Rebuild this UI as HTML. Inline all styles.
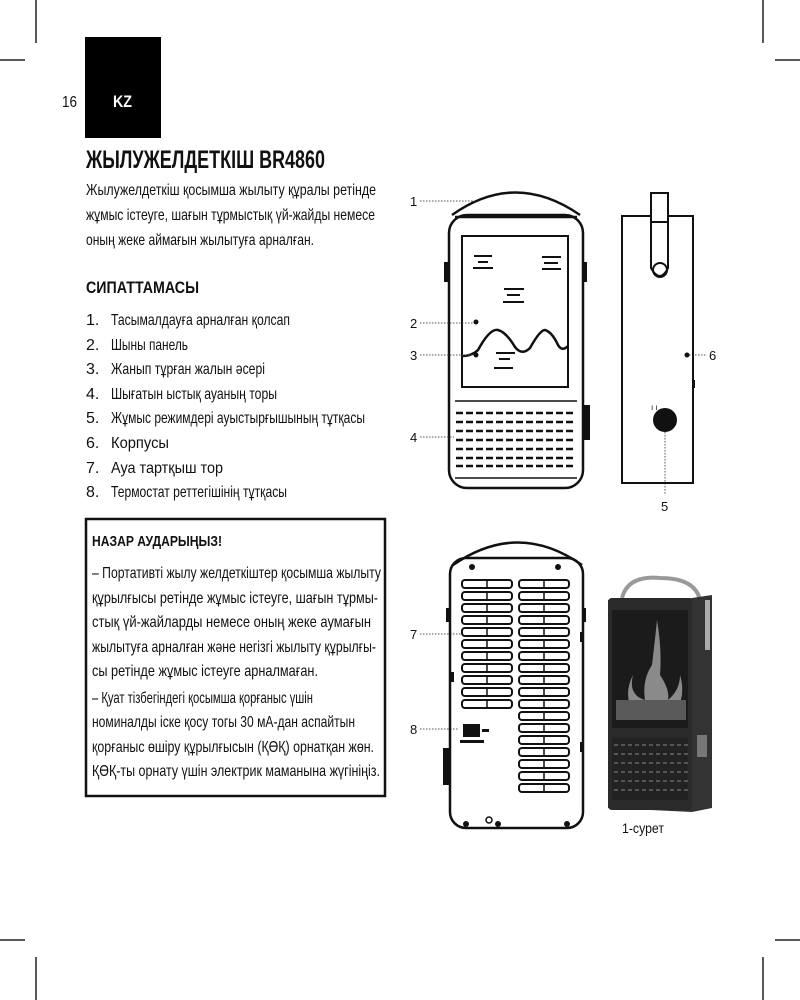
<!DOCTYPE html>
<html><head><meta charset="utf-8"><style>
html,body{margin:0;padding:0;background:#fff}
svg{display:block}
text{font-family:"Liberation Sans",sans-serif;fill:#111}
.b{font-weight:bold}
</style></head><body>
<svg width="800" height="1000" viewBox="0 0 800 1000" xmlns="http://www.w3.org/2000/svg">
<defs>
<g id="lv"><rect x="0" y="0" width="50" height="8" rx="3" fill="none" stroke="#111" stroke-width="2"/><line x1="25" y1="0" x2="25" y2="8" stroke="#111" stroke-width="1.5"/></g>
</defs>
<g stroke="#222" stroke-width="1.5">
<line x1="36" y1="0" x2="36" y2="43"/><line x1="0" y1="60" x2="25" y2="60"/>
<line x1="763" y1="0" x2="763" y2="43"/><line x1="775" y1="60" x2="800" y2="60"/>
<line x1="0" y1="940" x2="25" y2="940"/><line x1="36" y1="957" x2="36" y2="1000"/>
<line x1="775" y1="940" x2="800" y2="940"/><line x1="763" y1="957" x2="763" y2="1000"/>
</g>
<rect x="85" y="37" width="76" height="101" fill="#000"/>
<text x="113" y="107" class="b" font-size="17" style="fill:#fff" textLength="19" lengthAdjust="spacingAndGlyphs">KZ</text>
<text x="62" y="107" font-size="16" textLength="15" lengthAdjust="spacingAndGlyphs">16</text>

<text x="86" y="168" class="b" font-size="25" textLength="239" lengthAdjust="spacingAndGlyphs">ЖЫЛУЖЕЛДЕТКІШ BR4860</text>
<g font-size="16">
<text x="86" y="195" textLength="290" lengthAdjust="spacingAndGlyphs">Жылужелдеткіш қосымша жылыту құралы ретінде</text>
<text x="86" y="220" textLength="289" lengthAdjust="spacingAndGlyphs">жұмыс істеуге, шағын тұрмыстық үй-жайды немесе</text>
<text x="86" y="245" textLength="228" lengthAdjust="spacingAndGlyphs">оның жеке аймағын жылытуға арналған.</text>
</g>
<text x="86" y="293" class="b" font-size="17" textLength="113" lengthAdjust="spacingAndGlyphs">СИПАТТАМАСЫ</text>
<g font-size="16">
<text x="86" y="325">1.</text><text x="111" y="325" textLength="179" lengthAdjust="spacingAndGlyphs">Тасымалдауға арналған қолсап</text>
<text x="86" y="350">2.</text><text x="111" y="350" textLength="77" lengthAdjust="spacingAndGlyphs">Шыны панель</text>
<text x="86" y="374">3.</text><text x="111" y="374" textLength="154" lengthAdjust="spacingAndGlyphs">Жанып тұрған жалын әсері</text>
<text x="86" y="399">4.</text><text x="111" y="399" textLength="166" lengthAdjust="spacingAndGlyphs">Шығатын ыстық ауаның торы</text>
<text x="86" y="423">5.</text><text x="111" y="423" textLength="254" lengthAdjust="spacingAndGlyphs">Жұмыс режимдері ауыстырғышының тұтқасы</text>
<text x="86" y="448">6.</text><text x="111" y="448" textLength="58" lengthAdjust="spacingAndGlyphs">Корпусы</text>
<text x="86" y="473">7.</text><text x="111" y="473" textLength="112" lengthAdjust="spacingAndGlyphs">Ауа тартқыш тор</text>
<text x="86" y="497">8.</text><text x="111" y="497" textLength="176" lengthAdjust="spacingAndGlyphs">Термостат реттегішінің тұтқасы</text>
</g>
<rect x="86" y="519" width="299" height="277" fill="none" stroke="#111" stroke-width="2.5"/>
<text x="92" y="546" class="b" font-size="15" textLength="130" lengthAdjust="spacingAndGlyphs">НАЗАР АУДАРЫҢЫЗ!</text>
<g font-size="16">
<text x="92" y="578" textLength="289" lengthAdjust="spacingAndGlyphs">– Портативті жылу желдеткіштер қосымша жылыту</text>
<text x="92" y="603" textLength="286" lengthAdjust="spacingAndGlyphs">құрылғысы ретінде жұмыс істеуге, шағын тұрмы-</text>
<text x="92" y="627" textLength="279" lengthAdjust="spacingAndGlyphs">стық үй-жайларды немесе оның жеке аумағын</text>
<text x="92" y="652" textLength="284" lengthAdjust="spacingAndGlyphs">жылытуға арналған және негізгі жылыту құрылғы-</text>
<text x="92" y="676" textLength="226" lengthAdjust="spacingAndGlyphs">сы ретінде жұмыс істеуге арналмаған.</text>
<text x="92" y="703" textLength="221" lengthAdjust="spacingAndGlyphs">– Қуат тізбегіндегі қосымша қорғаныс үшін</text>
<text x="92" y="727" textLength="263" lengthAdjust="spacingAndGlyphs">номиналды іске қосу тогы 30 мА-дан аспайтын</text>
<text x="92" y="752" textLength="282" lengthAdjust="spacingAndGlyphs">қорғаныс өшіру құрылғысын (ҚӨҚ) орнатқан жөн.</text>
<text x="92" y="776" textLength="288" lengthAdjust="spacingAndGlyphs">ҚӨҚ-ты орнату үшін электрик маманына жүгініңіз.</text>
</g>

<g fill="none" stroke="#111" stroke-width="2.5">
<path d="M452 215 Q515 170 580 215"/>
<rect x="449" y="215" width="134" height="273" rx="18"/>
<line x1="455" y1="217" x2="577" y2="217"/>
<rect x="462" y="236" width="106" height="151" stroke-width="2"/>
<line x1="455" y1="401" x2="577" y2="401" stroke-width="1.5"/>
<line x1="455" y1="478" x2="577" y2="478" stroke-width="1.5"/>
<path d="M462 356 Q472 356 478 350 Q490 328 498 330 Q506 332 515 347 Q522 356 530 348 Q540 330 545 330 Q552 332 558 345 Q562 352 568 346"/>
</g>
<g stroke="#111" stroke-width="2">
<line x1="474" y1="256" x2="492" y2="256"/><line x1="478" y1="262" x2="488" y2="262"/><line x1="473" y1="268" x2="493" y2="268"/>
<line x1="542" y1="257" x2="561" y2="257"/><line x1="544" y1="263" x2="558" y2="263"/><line x1="542" y1="269" x2="561" y2="269"/>
<line x1="504" y1="289" x2="524" y2="289"/><line x1="507" y1="295" x2="520" y2="295"/><line x1="503" y1="302" x2="524" y2="302"/>
<line x1="496" y1="353" x2="515" y2="353"/><line x1="499" y1="359" x2="510" y2="359"/><line x1="494" y1="368" x2="513" y2="368"/>
</g>
<g stroke="#111" stroke-width="2.5" stroke-dasharray="7,3">
<line x1="456" y1="413" x2="576" y2="413"/><line x1="456" y1="422" x2="576" y2="422"/><line x1="456" y1="431" x2="576" y2="431"/>
<line x1="456" y1="440" x2="576" y2="440"/><line x1="456" y1="449" x2="576" y2="449"/><line x1="456" y1="458" x2="576" y2="458"/><line x1="456" y1="466" x2="576" y2="466"/>
</g>
<rect x="583" y="405" width="7" height="35" fill="#111"/>
<rect x="444" y="262" width="5" height="20" fill="#111"/><rect x="582" y="262" width="5" height="20" fill="#111"/>
<g stroke="#555" stroke-width="1" stroke-dasharray="1.5,1.5">
<line x1="420" y1="201" x2="475" y2="201"/><line x1="420" y1="323" x2="474" y2="323"/>
<line x1="420" y1="355" x2="474" y2="355"/><line x1="420" y1="437" x2="454" y2="437"/>
<line x1="689" y1="355" x2="707" y2="355"/><line x1="665" y1="432" x2="665" y2="495"/>
<line x1="420" y1="634" x2="462" y2="634"/><line x1="420" y1="729" x2="458" y2="729"/>
</g>
<circle cx="476" cy="322" r="2.5" fill="#111"/><circle cx="476" cy="355" r="2.5" fill="#111"/><circle cx="687" cy="355" r="2.5" fill="#111"/>
<g font-size="13" fill="#333">
<text x="410" y="206">1</text><text x="410" y="328">2</text><text x="410" y="360">3</text><text x="410" y="442">4</text>
<text x="709" y="360">6</text><text x="661" y="511">5</text><text x="410" y="639">7</text><text x="410" y="734">8</text>
</g>

<g fill="none" stroke="#111" stroke-width="2">
<rect x="622" y="216" width="71" height="267"/>
<path d="M651 193 H668 V268 Q660 284 651 268 Z" fill="#fff"/>
<line x1="651" y1="222" x2="668" y2="222"/>
<circle cx="660" cy="270" r="7"/>
</g>
<circle cx="665" cy="420" r="12" fill="#111"/>
<rect x="692" y="380" width="3" height="8" fill="#111"/>
<text x="651" y="410" font-size="8">ı ı</text>

<g fill="none" stroke="#111" stroke-width="2.5">
<path d="M453 565 Q518 520 582 565"/>
<rect x="450" y="558" width="133" height="270" rx="16"/>
</g>
<g>
<use href="#lv" x="462" y="580"/><use href="#lv" x="462" y="592"/><use href="#lv" x="462" y="604"/><use href="#lv" x="462" y="616"/><use href="#lv" x="462" y="628"/><use href="#lv" x="462" y="640"/><use href="#lv" x="462" y="652"/><use href="#lv" x="462" y="664"/><use href="#lv" x="462" y="676"/><use href="#lv" x="462" y="688"/><use href="#lv" x="462" y="700"/>
<use href="#lv" x="519" y="580"/><use href="#lv" x="519" y="592"/><use href="#lv" x="519" y="604"/><use href="#lv" x="519" y="616"/><use href="#lv" x="519" y="628"/><use href="#lv" x="519" y="640"/><use href="#lv" x="519" y="652"/><use href="#lv" x="519" y="664"/><use href="#lv" x="519" y="676"/><use href="#lv" x="519" y="688"/><use href="#lv" x="519" y="700"/><use href="#lv" x="519" y="712"/><use href="#lv" x="519" y="724"/><use href="#lv" x="519" y="736"/><use href="#lv" x="519" y="748"/><use href="#lv" x="519" y="760"/><use href="#lv" x="519" y="772"/><use href="#lv" x="519" y="784"/>
</g>
<g fill="#111">
<circle cx="472" cy="567" r="3"/><circle cx="558" cy="567" r="3"/>
<circle cx="466" cy="824" r="3"/><circle cx="498" cy="824" r="3"/><circle cx="567" cy="824" r="3"/>
<rect x="446" y="608" width="4" height="14"/><rect x="582" y="608" width="4" height="14"/>
<rect x="580" y="632" width="4" height="10"/><rect x="450" y="672" width="4" height="10"/><rect x="580" y="742" width="4" height="10"/>
<rect x="463" y="724" width="17" height="13"/><rect x="482" y="729" width="7" height="3"/>
<rect x="460" y="740" width="24" height="3"/>
<rect x="443" y="748" width="8" height="37"/>
</g>
<circle cx="489" cy="820" r="3" fill="none" stroke="#111" stroke-width="1.5"/>

<path d="M622 598 Q628 575 660 578 Q695 578 700 600" fill="none" stroke="#999" stroke-width="4"/>
<path d="M608 600 L692 598 L712 595 L712 808 L692 812 L608 808 Z" fill="#333"/>
<rect x="608" y="598" width="84" height="212" rx="4" fill="#2a2a2a"/>
<rect x="612" y="610" width="76" height="118" fill="#1b1b1b"/>
<path d="M630 705 Q625 690 633 675 Q628 695 645 700 Q642 680 652 665 Q655 640 657 620 Q662 650 660 675 Q670 690 668 700 Q680 690 680 675 Q686 695 676 712 L628 712 Z" fill="#8a8a8a"/>
<rect x="616" y="700" width="70" height="20" fill="#5a5a5a"/>
<rect x="612" y="738" width="76" height="62" fill="#222"/>
<g stroke="#555" stroke-width="2" stroke-dasharray="4,3">
<line x1="614" y1="745" x2="688" y2="745"/><line x1="614" y1="754" x2="688" y2="754"/><line x1="614" y1="763" x2="688" y2="763"/><line x1="614" y1="772" x2="688" y2="772"/><line x1="614" y1="781" x2="688" y2="781"/><line x1="614" y1="790" x2="688" y2="790"/>
</g>
<rect x="697" y="735" width="10" height="22" fill="#777"/>
<rect x="705" y="600" width="5" height="50" fill="#aaa"/>
<text x="622" y="833" font-size="14" fill="#333" textLength="42" lengthAdjust="spacingAndGlyphs">1-сурет</text>
</svg>
</body></html>
